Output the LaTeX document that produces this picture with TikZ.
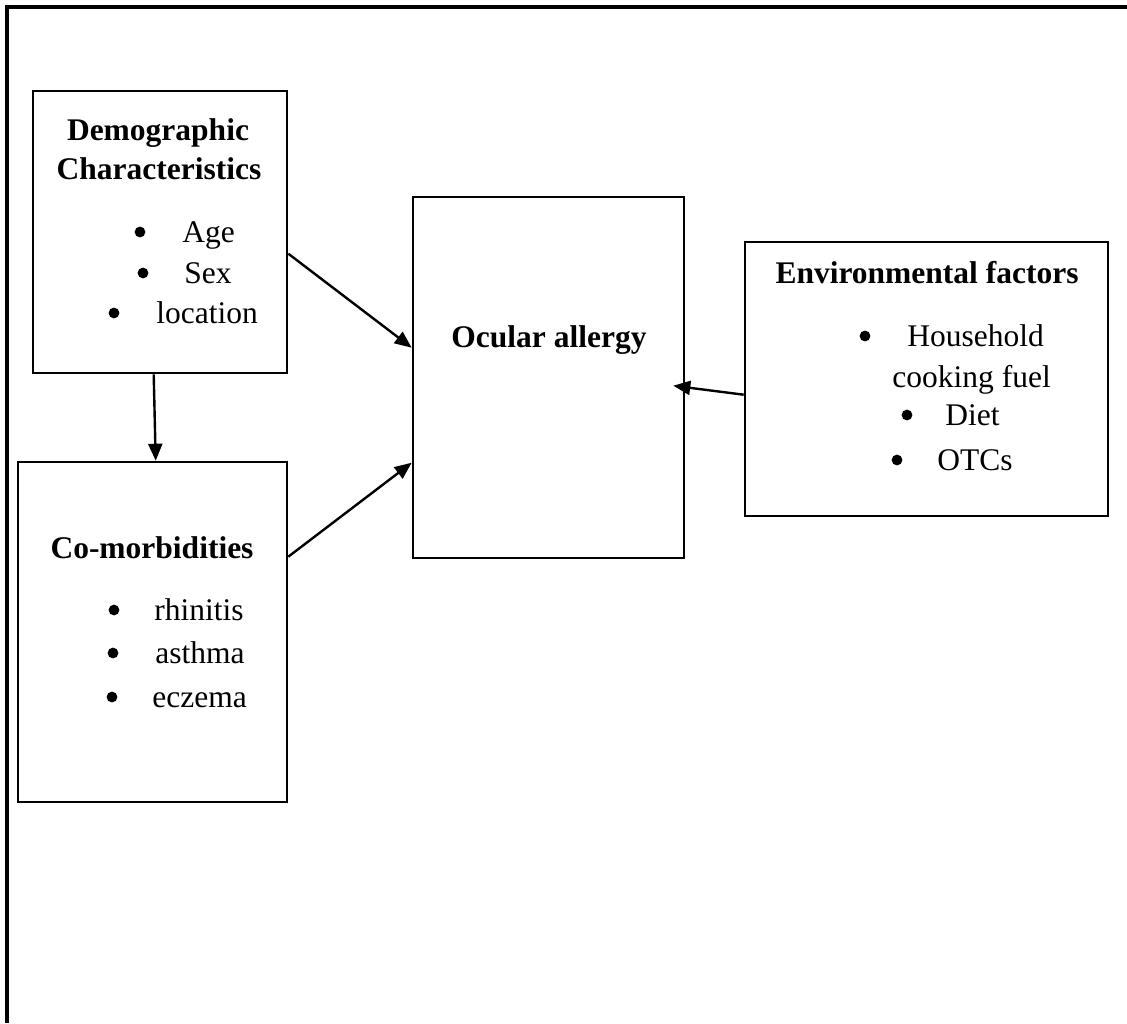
\documentclass[tikz,border=0pt]{standalone}
\usepackage{fontspec}
\setmainfont{Liberation Serif}
\usetikzlibrary{arrows.meta}
\begin{document}
\begin{tikzpicture}[x=0.5pt,y=-0.5pt,
  box/.style={draw=black, line width=1.3pt, rectangle, inner sep=0pt, fill=none},
  txt/.style={inner sep=0pt, font=\fontsize{15.75}{19}\selectfont},
  ttl/.style={inner sep=0pt, font=\fontsize{15.75}{19}\selectfont\bfseries, anchor=base},
  itm/.style={txt, anchor=base west},
  bul/.style={circle, fill=black, inner sep=0pt, minimum size=5.4pt},
  conn/.style={line width=1.2pt, -{Triangle[length=8.5pt,width=7pt]}}]
\useasboundingbox (0,0) rectangle (1127,1023);
\fill[white] (0,0) rectangle (1127,1023);
\draw[line width=1.6pt] (7,1023) -- (7,7) -- (1127,7);

% boxes
\node[box, minimum width=127pt, minimum height=141pt] (demo) at (160,232) {};
\node[box, minimum width=134.5pt, minimum height=170pt] (comorb) at (152.5,632) {};
\node[box, minimum width=135.5pt, minimum height=180.5pt] (ocular) at (548.5,377.5) {};
\node[box, minimum width=181.5pt, minimum height=137pt] (env) at (926.5,379) {};

% demographic text
\node[ttl] (demoT1) at (158,140) {Demographic};
\node[ttl] (demoT2) at (159,179) {Characteristics};
\node[bul] (db1) at (140,232) {};
\node[itm] (age) at (182,242) {Age};
\node[bul] (db2) at (143,273) {};
\node[itm] (sex) at (184,283) {Sex};
\node[bul] (db3) at (114,313) {};
\node[itm] (loc) at (156,323) {location};

% comorbidities text
\node[ttl] (comT) at (152,558) {Co-morbidities};
\node[bul] (cb1) at (114,610) {};
\node[itm] (rhi) at (154,620) {rhinitis};
\node[bul] (cb2) at (113,653) {};
\node[itm] (ast) at (155,663) {asthma};
\node[bul] (cb3) at (112,697) {};
\node[itm] (ecz) at (152,707) {eczema};

% ocular text
\node[ttl] (ocT) at (549,347) {Ocular allergy};

% environmental text
\node[ttl] (envT) at (927,283) {Environmental factors};
\node[bul] (eb1) at (865,336) {};
\node[itm] (hh) at (907,346) {Household};
\node[itm] (cf) at (892,387) {cooking fuel};
\node[bul] (eb2) at (907,415) {};
\node[itm] (diet) at (945,425) {Diet};
\node[bul] (eb3) at (897,460) {};
\node[itm] (otc) at (937,470) {OTCs};

% connectors
\draw[conn] ([yshift=-82pt]demo.north east) -- ([yshift=-76pt]ocular.north west);
\draw[conn] ([yshift=-48pt]comorb.north east) -- ([yshift=-133.5pt]ocular.north west);
\draw[conn] ([yshift=-77pt]env.north west) -- ([xshift=-6pt,yshift=-95pt]ocular.north east);
\draw[conn] ([xshift=61pt]demo.south west) -- ([xshift=69.5pt]comorb.north west);
\end{tikzpicture}
\end{document}
